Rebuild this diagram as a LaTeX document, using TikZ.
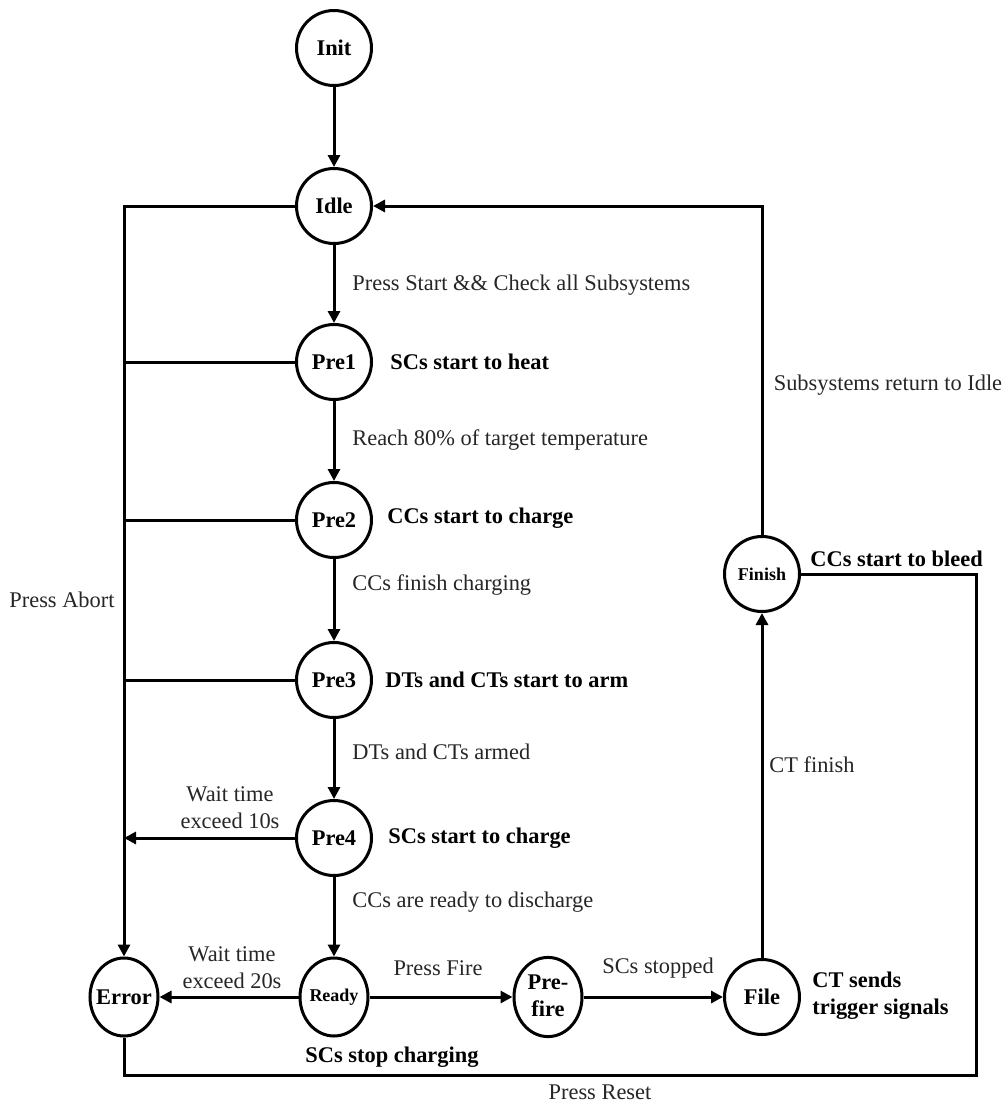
\documentclass[tikz,border=0pt]{standalone}
\usepackage{fontspec}
\setmainfont{Liberation Serif}
\usetikzlibrary{arrows.meta,shapes.geometric}
\begin{document}
\begin{tikzpicture}[x=0.5pt,y=-0.5pt,
  state/.style={circle,draw,line width=1.5pt,minimum size=37.5pt,inner sep=0pt,font=\fontsize{11.2}{13.5}\selectfont\bfseries},
  smallstate/.style={state,font=\fontsize{9}{11}\selectfont\bfseries},
  ell/.style={ellipse,draw,line width=1.5pt,minimum width=34pt,minimum height=39pt,inner sep=0pt,font=\fontsize{11.2}{14.5}\selectfont\bfseries},
  lbl/.style={font=\fontsize{11.2}{13.5}\selectfont,text=black!85,inner sep=0pt},
  blbl/.style={font=\fontsize{11.2}{13.5}\selectfont\bfseries,inner sep=0pt},
  conn/.style={line width=1.5pt},
  arr/.style={conn,-{Triangle[length=6pt,width=6pt]}}
]
\fill[white] (0,0) rectangle (1006,1104);
\useasboundingbox (0,0) rectangle (1006,1104);

% states
\node[state] (init) at (334,48) {Init};
\node[state] (idle) at (334,206) {Idle};
\node[state] (pre1) at (334,362) {Pre1};
\node[state] (pre2) at (334,520) {Pre2};
\node[state] (pre3) at (334,680) {Pre3};
\node[state] (pre4) at (334,838) {Pre4};
\node[ell,font=\fontsize{9}{11}\selectfont\bfseries] (ready) at (334,997) {\makebox[0pt]{Ready}};
\node[ell] (err) at (124,997) {\makebox[0pt]{Error}};
\node[ell] (prefire) at (548,997) {\makebox[0pt]{\begin{tabular}{@{}c@{}}Pre-\\[-1pt]fire\end{tabular}}};
\node[state] (file) at (762,997) {File};
\node[smallstate] (finish) at (762,574) {Finish};

% connectors
\draw[arr] (init) -- (idle);
\draw[arr] (idle) -- (pre1);
\draw[arr] (pre1) -- (pre2);
\draw[arr] (pre2) -- (pre3);
\draw[arr] (pre3) -- (pre4);
\draw[arr] (pre4) -- (ready);
\draw[arr] (idle.west) -| (err.north);
\draw[conn] (pre1.west) -- (pre1.west -| err.north);
\draw[conn] (pre2.west) -- (pre2.west -| err.north);
\draw[conn] (pre3.west) -- (pre3.west -| err.north);
\draw[arr] (pre4.west) -- (pre4.west -| err.north);
\draw[arr] (ready) -- (err);
\draw[arr] (ready) -- (prefire);
\draw[arr] (prefire) -- (file);
\draw[arr] (file) -- (finish);
\draw[arr] (finish.north) |- (idle.east);
\coordinate (rc) at (976,1075);
\draw[conn] (err.south) |- (rc) |- (finish.east);

% labels
\node[lbl,anchor=west] (l1) at (352,285) {Press Start \&\& Check all Subsystems};
\node[blbl,anchor=west] (b1) at (390,362) {SCs start to heat};
\node[lbl,anchor=west] (l2) at (352,440) {Reach 80\% of target temperature};
\node[blbl,anchor=west] (b2) at (387,518) {CCs start to charge};
\node[lbl,anchor=west] (l3) at (352,585) {CCs finish charging};
\node[blbl,anchor=west] (b3) at (385,680) {DTs and CTs start to arm};
\node[lbl,anchor=west] (l4) at (352,752) {DTs and CTs armed};
\node[blbl,anchor=west] (b4) at (388,838) {SCs start to charge};
\node[lbl,anchor=west] (l5) at (352,902) {CCs are ready to discharge};
\node[lbl,align=center] (w10) at (230,808) {Wait time\\exceed 10s};
\node[lbl,align=center] (w20) at (232,968) {Wait time\\exceed 20s};
\node[lbl] (fire) at (438,968) {Press Fire};
\node[lbl] (stopped) at (658,968) {SCs stopped};
\node[blbl,align=left,anchor=west] (ct) at (812,996) {CT sends\\trigger signals};
\node[blbl] (stop) at (392,1057) {SCs stop charging};
\node[lbl] (reset) at (600,1092) {Press Reset};
\node[lbl] (ctf) at (812,765) {CT finish};
\node[lbl] (ret) at (888,385) {Subsystems return to Idle};
\node[blbl,anchor=west] (bleed) at (810,559) {CCs start to bleed};
\node[lbl] (abort) at (62,600) {Press Abort};
\end{tikzpicture}
\end{document}
